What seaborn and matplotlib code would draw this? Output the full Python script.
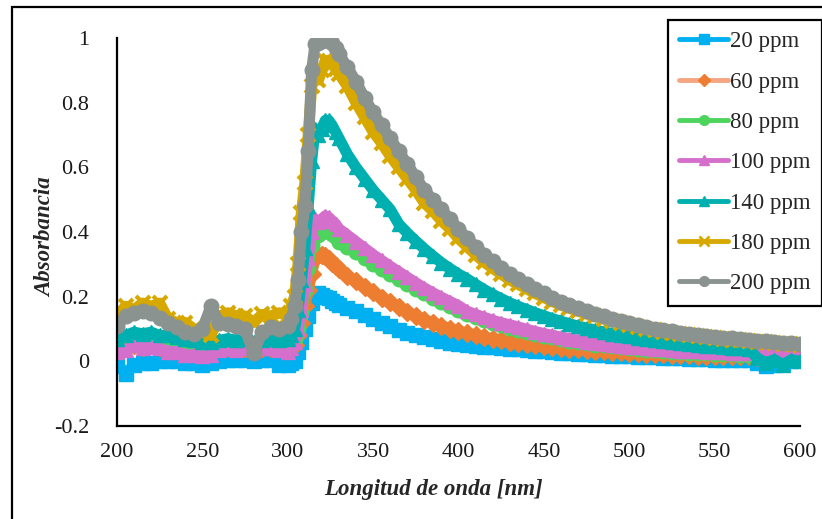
import matplotlib
matplotlib.use("Agg")
import matplotlib.pyplot as plt
import seaborn as sns
import pandas as pd
from matplotlib.patches import Rectangle

# wavelength grid [nm]
wl = [200, 205, 210, 215, 220, 225, 230, 235, 240, 245, 250, 255, 260, 265, 270, 275, 280, 285, 290, 295, 300,
      302, 304, 306, 308, 310, 312, 314, 316, 318, 320, 322, 324, 326, 328, 330,
      335, 340, 345, 350, 355, 360, 365, 370, 375, 380, 385, 390, 395, 400, 405, 410, 415, 420, 425, 430,
      435, 440, 445, 450, 455, 460, 465, 470, 475, 480, 485, 490, 495, 500, 505, 510, 515, 520, 525, 530,
      535, 540, 545, 550, 555, 560, 565, 570, 575, 580, 585, 590, 595, 600]

# absorbance
ppm20 = [-0.005, -0.04, -0.01, -0.005, -0.005, 0.0, 0.0, 0.0, -0.005, -0.005, -0.01, -0.005, 0.0, 0.005, 0.005, 0.005, 0.0, 0.005, 0.005, -0.01, -0.01,
         -0.005, 0.0, 0.03, 0.06, 0.10, 0.14, 0.18, 0.20, 0.21, 0.205, 0.20, 0.195, 0.188, 0.18, 0.175,
         0.165, 0.155, 0.143, 0.132, 0.12, 0.108, 0.098, 0.089, 0.081, 0.074, 0.068, 0.063, 0.058, 0.054, 0.051, 0.048, 0.045, 0.043, 0.041, 0.039,
         0.037, 0.035, 0.033, 0.031, 0.029, 0.027, 0.025, 0.023, 0.022, 0.020, 0.019, 0.017, 0.016, 0.015, 0.014, 0.013, 0.012, 0.011, 0.010, 0.009,
         0.008, 0.007, 0.006, 0.005, 0.005, 0.004, 0.004, 0.003, -0.005, -0.015, -0.01, -0.005, 0.0, 0.005]
ppm60 = [0.04, 0.045, 0.05, 0.045, 0.05, 0.045, 0.04, 0.04, 0.035, 0.03, 0.03, 0.03, 0.04, 0.045, 0.04, 0.04, 0.035, 0.04, 0.04, 0.04, 0.035,
         0.04, 0.05, 0.08, 0.12, 0.17, 0.22, 0.27, 0.32, 0.33, 0.33, 0.325, 0.315, 0.305, 0.295, 0.285,
         0.265, 0.248, 0.23, 0.213, 0.197, 0.182, 0.167, 0.153, 0.141, 0.129, 0.119, 0.11, 0.101, 0.094, 0.087, 0.081, 0.075, 0.070, 0.065, 0.061,
         0.057, 0.053, 0.050, 0.047, 0.044, 0.042, 0.039, 0.037, 0.035, 0.033, 0.031, 0.030, 0.028, 0.027, 0.025, 0.024, 0.023, 0.022, 0.021, 0.020,
         0.019, 0.018, 0.018, 0.017, 0.016, 0.016, 0.015, 0.015, 0.014, 0.014, 0.013, 0.013, 0.012, 0.012]
ppm80 = [0.05, 0.05, 0.06, 0.055, 0.06, 0.055, 0.05, 0.045, 0.04, 0.04, 0.035, 0.04, 0.045, 0.05, 0.045, 0.045, 0.04, 0.045, 0.05, 0.045, 0.04,
         0.05, 0.07, 0.10, 0.15, 0.22, 0.29, 0.36, 0.40, 0.39, 0.40, 0.41, 0.405, 0.395, 0.385, 0.37,
         0.355, 0.338, 0.32, 0.30, 0.285, 0.27, 0.255, 0.24, 0.225, 0.21, 0.197, 0.184, 0.172, 0.16, 0.145, 0.136, 0.127, 0.119, 0.111, 0.104,
         0.097, 0.091, 0.085, 0.079, 0.074, 0.069, 0.064, 0.060, 0.056, 0.052, 0.049, 0.046, 0.043, 0.040, 0.038, 0.036, 0.034, 0.032, 0.030, 0.028,
         0.027, 0.026, 0.025, 0.024, 0.023, 0.022, 0.021, 0.020, 0.020, 0.019, 0.019, 0.018, 0.018, 0.018]
ppm100 = [0.03, 0.035, 0.05, 0.04, 0.045, 0.04, 0.03, 0.03, 0.02, 0.02, 0.015, 0.02, 0.035, 0.04, 0.035, 0.04, 0.035, 0.04, 0.04, 0.035, 0.03,
          0.04, 0.06, 0.10, 0.16, 0.24, 0.32, 0.40, 0.44, 0.43, 0.44, 0.45, 0.445, 0.435, 0.425, 0.41,
          0.39, 0.37, 0.35, 0.33, 0.312, 0.294, 0.277, 0.26, 0.243, 0.227, 0.212, 0.198, 0.185, 0.172, 0.155, 0.145, 0.136, 0.127, 0.119, 0.113,
          0.106, 0.099, 0.092, 0.086, 0.080, 0.075, 0.070, 0.065, 0.061, 0.057, 0.054, 0.051, 0.048, 0.045, 0.043, 0.041, 0.039, 0.037, 0.035, 0.033,
          0.032, 0.031, 0.030, 0.029, 0.028, 0.027, 0.026, 0.025, 0.03, 0.035, 0.03, 0.032, 0.03, 0.03]
ppm140 = [0.07, 0.08, 0.09, 0.085, 0.09, 0.08, 0.08, 0.075, 0.07, 0.065, 0.06, 0.06, 0.065, 0.07, 0.065, 0.07, 0.06, 0.065, 0.07, 0.065, 0.07,
          0.08, 0.10, 0.16, 0.25, 0.35, 0.48, 0.62, 0.72, 0.70, 0.72, 0.745, 0.745, 0.73, 0.71, 0.69,
          0.64, 0.60, 0.565, 0.53, 0.50, 0.47, 0.425, 0.397, 0.372, 0.348, 0.326, 0.305, 0.287, 0.27, 0.255, 0.238, 0.222, 0.207, 0.194, 0.181,
          0.17, 0.16, 0.15, 0.141, 0.132, 0.124, 0.116, 0.109, 0.103, 0.097, 0.091, 0.086, 0.081, 0.077, 0.073, 0.069, 0.065, 0.062, 0.059, 0.056,
          0.053, 0.051, 0.048, 0.046, 0.044, 0.042, 0.040, 0.038, 0.01, -0.005, 0.005, -0.01, 0.005, 0.0]
ppm180 = [0.14, 0.17, 0.16, 0.18, 0.17, 0.18, 0.13, 0.12, 0.12, 0.10, 0.09, 0.08, 0.14, 0.15, 0.14, 0.14, 0.12, 0.145, 0.14, 0.15, 0.14,
          0.17, 0.20, 0.30, 0.46, 0.55, 0.70, 0.85, 0.88, 0.87, 0.90, 0.93, 0.93, 0.92, 0.905, 0.89,
          0.85, 0.80, 0.755, 0.71, 0.675, 0.635, 0.60, 0.565, 0.53, 0.49, 0.465, 0.435, 0.41, 0.38, 0.355, 0.33, 0.307, 0.288, 0.27, 0.252,
          0.238, 0.224, 0.21, 0.197, 0.185, 0.174, 0.164, 0.155, 0.147, 0.139, 0.131, 0.125, 0.118, 0.112, 0.106, 0.101, 0.096, 0.092, 0.088, 0.085,
          0.081, 0.078, 0.075, 0.072, 0.070, 0.067, 0.065, 0.063, 0.061, 0.059, 0.057, 0.055, 0.053, 0.052]
ppm200 = [0.11, 0.14, 0.15, 0.155, 0.15, 0.135, 0.12, 0.105, 0.09, 0.085, 0.10, 0.17, 0.12, 0.115, 0.11, 0.10, 0.025, 0.09, 0.105, 0.10, 0.11,
          0.13, 0.17, 0.25, 0.40, 0.48, 0.65, 0.90, 0.98, 0.985, 0.99, 0.995, 0.995, 0.985, 0.97, 0.95,
          0.91, 0.865, 0.815, 0.77, 0.73, 0.69, 0.65, 0.61, 0.57, 0.53, 0.50, 0.47, 0.44, 0.41, 0.38, 0.355, 0.33, 0.31, 0.29, 0.27,
          0.255, 0.24, 0.225, 0.21, 0.197, 0.185, 0.175, 0.165, 0.156, 0.147, 0.139, 0.132, 0.125, 0.118, 0.112, 0.106, 0.101, 0.097, 0.093, 0.089,
          0.085, 0.082, 0.079, 0.076, 0.073, 0.071, 0.068, 0.066, 0.064, 0.062, 0.060, 0.058, 0.056, 0.055]

labels = ["20 ppm", "60 ppm", "80 ppm", "100 ppm", "140 ppm", "180 ppm", "200 ppm"]
series = [ppm20, ppm60, ppm80, ppm100, ppm140, ppm180, ppm200]
line_colors = ["#00B0F0", "#F4A582", "#4CD45C", "#D56FCC", "#00AFB0", "#D6A800", "#8A938F"]
marker_colors = ["#00B0F0", "#ED7D31", "#4CD45C", "#D56FCC", "#00AFB0", "#D6A800", "#8A938F"]
markers = ["s", "D", "o", "^", "^", "x", "o"]

sns.set_theme(style="white")
plt.rcParams["font.family"] = ["Liberation Serif", "DejaVu Serif"]

fig = plt.figure(figsize=(8.22, 5.19), dpi=100)
ax = fig.add_axes([0.1423, 0.1792, 0.8309, 0.7476])

for lab, vals, lc, mc, mk in zip(labels, series, line_colors, marker_colors, markers):
    df = pd.DataFrame({"wl": wl, "abs": vals})
    sns.lineplot(data=df, x="wl", y="abs", ax=ax, label=lab, color=mc, lw=8,
                 marker=mk, ms=10.5 if mk != "D" else 9, mfc=mc, mec=mc,
                 mew=3 if mk == "x" else 1)

ax.set_xlim(200, 600)
ax.set_ylim(-0.2, 1.0)
ax.set_xticks([200, 250, 300, 350, 400, 450, 500, 550, 600])
ax.set_yticks([-0.2, 0, 0.2, 0.4, 0.6, 0.8, 1])
ax.set_yticklabels(["-0.2", "0", "0.2", "0.4", "0.6", "0.8", "1"])
ax.tick_params(axis="both", length=0, labelsize=16, colors="#1a1a1a")
ax.tick_params(axis="x", pad=12)
ax.tick_params(axis="y", pad=20)
for s in ["top", "right"]:
    ax.spines[s].set_visible(False)
for s in ["left", "bottom"]:
    ax.spines[s].set_color("black")
    ax.spines[s].set_linewidth(1.6)

ax.set_xlabel("Longitud de onda [nm]", fontsize=16.5, fontweight="bold", fontstyle="italic")
ax.set_ylabel("Absorbancia", fontsize=16.5, fontweight="bold", fontstyle="italic")
ax.xaxis.set_label_coords((433 - 116) / 684, (426 - 490) / 388)
ax.xaxis.label.set_va("center")
ax.yaxis.set_label_coords((45 - 116) / 684, (426 - 237) / 388)
ax.yaxis.label.set_va("center")

leg = ax.legend(loc="upper left", bbox_to_anchor=(668 / 822, 1 - 20 / 519), bbox_transform=fig.transFigure,
                fontsize=16.5, frameon=True, fancybox=False, edgecolor="black", framealpha=1,
                labelspacing=0.84, handlelength=2.1, handletextpad=0.1, borderpad=0.5, borderaxespad=0)
leg.get_frame().set_linewidth(1.6)
for ln, lc in zip(leg.get_lines(), line_colors):
    ln.set_linewidth(3.5)
    ln.set_color(lc)
    ln.set_markersize(7 if ln.get_marker() != "D" else 6)
    if ln.get_marker() == "x":
        ln.set_markeredgewidth(2)

# outer border of the figure
fig.patches.append(Rectangle((12 / 822, -0.1), 1.2, 1.1 - 7 / 519, transform=fig.transFigure,
                             fill=False, edgecolor="black", lw=1.6))

fig.savefig("out.png", dpi=100)
